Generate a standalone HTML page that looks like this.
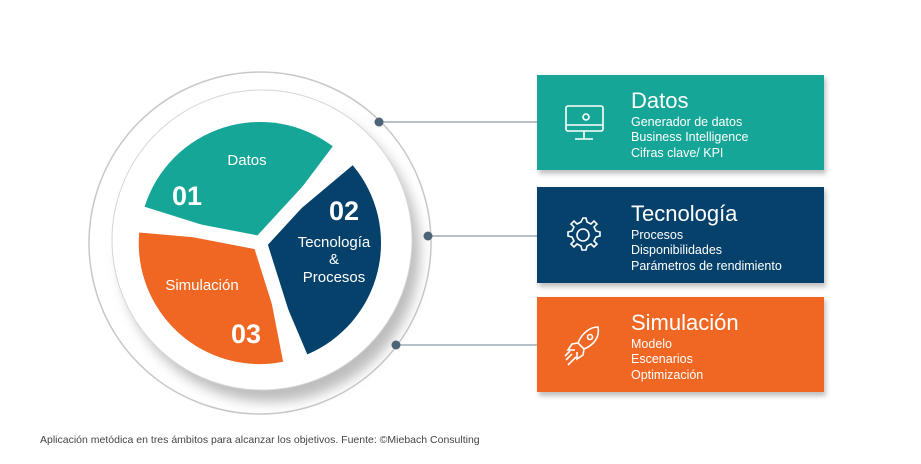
<!DOCTYPE html>
<html><head><meta charset="utf-8"><style>
body{margin:0;background:#fff;width:921px;height:459px;overflow:hidden;font-family:"Liberation Sans",sans-serif}
</style></head><body>
<svg width="921" height="459" viewBox="0 0 921 459" xmlns="http://www.w3.org/2000/svg" font-family="Liberation Sans, sans-serif">
<defs>
<filter id="sh" x="-20%" y="-20%" width="150%" height="150%"><feGaussianBlur stdDeviation="6"/></filter>
<filter id="bs" x="-5%" y="-5%" width="115%" height="125%"><feGaussianBlur stdDeviation="2.5"/></filter>
</defs>
<circle cx="260" cy="243" r="171" fill="#fff" stroke="#c8c8c8" stroke-width="1.5"/>
<circle cx="270" cy="252" r="150" fill="#bdbdbd" filter="url(#sh)"/>
<circle cx="262" cy="240" r="150" fill="#fff" stroke="#d6d6d6" stroke-width="1"/>
<g>
<path d="M260 243 L144.6 206.7 A121 121 0 0 1 332.8 146.3 Z" fill="#16a697"/>
<path d="M260 243 L352.7 165.2 A121 121 0 0 1 307.3 354.4 Z" fill="#06416b"/>
<path d="M260 243 L283.1 361.8 A121 121 0 0 1 139.2 232.5 Z" fill="#ef6723"/>
<g stroke="#fff" stroke-width="14" stroke-linecap="butt">
<line x1="260" y1="243" x2="352" y2="143"/>
<line x1="260" y1="243" x2="300" y2="370"/>
<line x1="260" y1="243" x2="130" y2="218"/>
</g>
</g>
<g fill="#fff" text-anchor="middle">
<text x="247" y="165" font-size="15">Datos</text>
<text x="187" y="205" font-size="27" font-weight="bold">01</text>
<text x="344" y="220" font-size="27" font-weight="bold">02</text>
<text x="334" y="247" font-size="15">Tecnología</text>
<text x="334" y="264" font-size="15">&amp;</text>
<text x="334" y="282" font-size="15">Procesos</text>
<text x="202" y="290" font-size="15">Simulación</text>
<text x="246" y="343" font-size="27" font-weight="bold">03</text>
</g>
<g stroke="#8a9aa7" stroke-width="1.2">
<line x1="379" y1="122" x2="537" y2="122"/>
<line x1="428" y1="236" x2="537" y2="236"/>
<line x1="396" y1="345" x2="537" y2="345"/>
</g>
<g fill="#4d6478">
<circle cx="379" cy="122" r="4.5"/><circle cx="428" cy="236" r="4.5"/><circle cx="396" cy="345" r="4.5"/>
</g>
<g fill="#999" opacity="0.6" filter="url(#bs)">
<rect x="539" y="78" width="287" height="96"/>
<rect x="539" y="190" width="287" height="97"/>
<rect x="539" y="300" width="287" height="96"/>
</g>
<rect x="537" y="75" width="287" height="95" fill="#16a697"/>
<rect x="537" y="187" width="287" height="96" fill="#06416b"/>
<rect x="537" y="297" width="287" height="95" fill="#ef6723"/>
<g fill="none" stroke="#fff" stroke-width="1.6">
<rect x="566" y="106" width="37" height="25" rx="2"/>
<line x1="566" y1="125" x2="603" y2="125"/>
<line x1="584" y1="131" x2="584" y2="138"/><line x1="575" y1="139" x2="593" y2="139"/>
<circle cx="586" cy="117" r="3"/>
<circle cx="583" cy="235" r="6"/>
<path d="M583 218 l3 0 1 4 4 2 3-3 3 3-3 3 2 4 4 1 0 4-4 1-2 4 3 3-3 3-3-3-4 2-1 4-4 0-1-4-4-2-3 3-3-3 3-3-2-4-4-1 0-4 4-1 2-4-3-3 3-3 3 3 4-2z"/>
<path d="M598 327 c-8 0-16 6-20 16 l6 6 c10-4 16-12 14-22z"/>
<circle cx="590" cy="337" r="2.5"/>
<path d="M578 343 l-6 1 -4 6 7 0 M584 349 l-1 6 -6 4 0-7"/>
<path d="M572 354 l-6 6 M576 357 l-8 8 M570 351 l-5 5"/>
</g>
<g fill="#fff">
<text x="631" y="108" font-size="22">Datos</text>
<text x="631" y="126" font-size="12.5">Generador de datos</text>
<text x="631" y="141" font-size="12.5">Business Intelligence</text>
<text x="631" y="157" font-size="12.5">Cifras clave/ KPI</text>
<text x="631" y="221" font-size="22">Tecnología</text>
<text x="631" y="239" font-size="12.5">Procesos</text>
<text x="631" y="254" font-size="12.5">Disponibilidades</text>
<text x="631" y="270" font-size="12.5">Parámetros de rendimiento</text>
<text x="631" y="330" font-size="22">Simulación</text>
<text x="631" y="348" font-size="12.5">Modelo</text>
<text x="631" y="363" font-size="12.5">Escenarios</text>
<text x="631" y="379" font-size="12.5">Optimización</text>
</g>
<text x="40" y="443" font-size="10.5" fill="#444">Aplicación metódica en tres ámbitos para alcanzar los objetivos. Fuente: ©Miebach Consulting</text>
</svg>
</body></html>
